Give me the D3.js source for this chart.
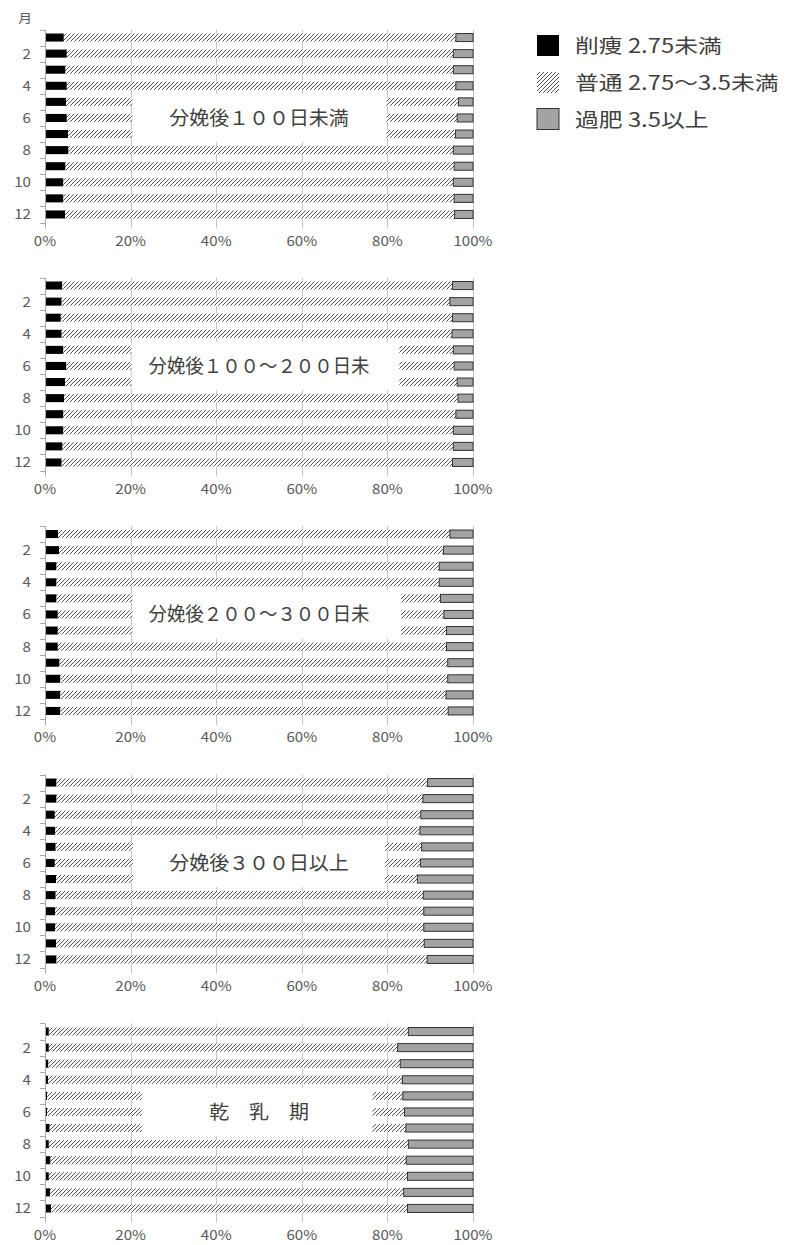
<!DOCTYPE html>
<html><head><meta charset="utf-8">
<script src="https://cdn.jsdelivr.net/npm/d3@7"></script>
<style>
html,body{margin:0;padding:0;background:#fff;}
svg{display:block;font-family:"Noto Sans CJK JP","Noto Sans",sans-serif;}
</style></head>
<body><svg id="c" width="787" height="1245"></svg>
<script>
const months = [1,2,3,4,5,6,7,8,9,10,11,12];
const monthLabels = ["","2","","4","","6","","8","","10","","12"];
const xTicks = [0,20,40,60,80,100];
const panelTitles = ["分娩後１００日未満","分娩後１００～２００日未","分娩後２００～３００日未","分娩後３００日以上","乾　乳　期"];
const seriesNames = ["削痩 2.75未満","普通 2.75～3.5未満","過肥 3.5以上"];

const thin1 = [4.4,5.1,4.8,5.1,4.9,5.1,5.4,5.5,4.8,4.3,4.3,4.7];
const normal1 = [91.6,90.3,90.6,90.9,91.7,91.2,90.5,89.9,90.8,91.1,91.3,91.0];
const fat1 = [4.0,4.6,4.6,4.0,3.4,3.7,4.1,4.6,4.4,4.6,4.4,4.3];

const thin2 = [4.0,3.9,3.7,3.9,4.3,5.0,4.7,4.5,4.3,4.3,4.1,3.9];
const normal2 = [91.2,90.7,91.5,91.2,91.1,90.6,91.6,92.0,91.7,91.1,91.3,91.3];
const fat2 = [4.8,5.4,4.8,4.9,4.6,4.4,3.7,3.5,4.0,4.6,4.6,4.8];

const thin3 = [3.1,3.3,2.7,2.7,2.7,3.0,3.0,3.0,3.4,3.6,3.6,3.6];
const normal3 = [91.5,89.8,89.4,89.4,89.7,90.2,90.8,90.8,90.7,90.5,90.1,90.6];
const fat3 = [5.4,6.9,7.9,7.9,7.6,6.8,6.2,6.2,5.9,5.9,6.3,5.8];

const thin4 = [2.7,2.7,2.3,2.4,2.5,2.3,2.6,2.5,2.4,2.4,2.6,2.7];
const normal4 = [86.7,85.6,85.5,85.2,85.5,85.4,84.4,85.9,86.1,86.1,86.0,86.6];
const fat4 = [10.6,11.7,12.2,12.4,12.0,12.3,13.0,11.6,11.5,11.5,11.4,10.7];

const thin5 = [0.9,0.9,0.8,0.7,0.5,0.5,1.1,0.9,1.3,0.9,1.2,1.4];
const normal5 = [84.0,81.5,82.2,82.8,83.1,83.5,83.2,84.0,83.1,83.8,82.6,83.3];
const fat5 = [15.1,17.6,17.0,16.5,16.4,16.0,15.7,15.1,15.6,15.3,16.2,15.3];

// label box extent (in % of x axis) over months 5-7
const labelBoxFrom = [20.2,20.0,20.2,20.3,22.4];
const labelBoxTo = [79.8,82.8,83.2,79.4,76.5];

const panels = [
  [thin1,normal1,fat1],[thin2,normal2,fat2],[thin3,normal3,fat3],[thin4,normal4,fat4],[thin5,normal5,fat5]
];

const svg = d3.select("#c");
const defs = svg.append("defs");
const pat = defs.append("pattern").attr("id","hatch").attr("patternUnits","userSpaceOnUse")
  .attr("width",4).attr("height",4);
pat.append("rect").attr("width",4).attr("height",4).attr("fill","#fff");
pat.append("path").attr("d","M0,4 L4,0 M-1,1 L1,-1 M3,5 L5,3")
  .attr("stroke","#333").attr("stroke-width",0.85);

const fills = ["#000","url(#hatch)","#a3a3a3"];
const strokes = ["none","none","#333"];
const gridCol = "#c4c4c4";
const textCol = "#595959";

const x = d3.scaleLinear().domain([0,100]).range([45,473]);
const panelTop = [29.5,277.5,526,774.5,1023.5];
const plotH = 193;
const titleScale = [1.05,0.97,0.97,1.05,1.05];

panels.forEach((series,pi)=>{
  const top = panelTop[pi];
  const y = d3.scaleBand().domain(months).range([top, top+plotH]).paddingInner(0.5).paddingOuter(0.25);
  const g = svg.append("g");
  const step = y.step();
  const bandTop = m => y(m) - step*0.25;
  g.selectAll("line.grid").data(xTicks.filter(d=>d>0)).join("line")
    .attr("x1",d=>Math.round(x(d))+0.5).attr("x2",d=>Math.round(x(d))+0.5)
    .attr("y1",top).attr("y2",top+plotH+6).attr("stroke",gridCol).attr("stroke-width",1);
  const stacked = months.map((m,i)=>{
    let acc=0; return series.map((s,k)=>{const r={m,k,x0:acc,x1:acc+s[i]}; acc+=s[i]; return r;});
  }).flat();
  g.selectAll("rect.bar").data(stacked).join("rect")
    .attr("x",d=>x(d.x0)).attr("width",d=>x(d.x1)-x(d.x0))
    .attr("y",d=>y(d.m)).attr("height",y.bandwidth())
    .attr("fill",d=>fills[d.k]).attr("stroke",d=>strokes[d.k]).attr("stroke-width",1);
  const bx0 = x(labelBoxFrom[pi]), bx1 = x(labelBoxTo[pi]);
  const by0 = bandTop(5), by1 = bandTop(7)+step;
  g.append("rect").attr("x",bx0+1).attr("y",by0).attr("width",bx1-bx0-1).attr("height",by1-by0).attr("fill","#fff");
  g.append("text").attr("transform",`translate(${x(50)},${(by0+by1)/2+7}) scale(${titleScale[pi]},1)`)
    .attr("text-anchor","middle").attr("font-size",19).attr("fill","#404040").text(panelTitles[pi]);
  g.append("line").attr("x1",45.5).attr("x2",45.5).attr("y1",top).attr("y2",top+plotH+6)
    .attr("stroke","#a8a8a8");
  const bounds = months.map(m=>bandTop(m)).concat([bandTop(12)+step]);
  g.selectAll("line.tk").data(bounds).join("line")
    .attr("x1",40).attr("x2",45).attr("y1",d=>Math.round(d)+0.5).attr("y2",d=>Math.round(d)+0.5)
    .attr("stroke","#a8a8a8");
  g.selectAll("text.ml").data(months).join("text")
    .attr("transform",d=>`translate(31,${y(d)+y.bandwidth()/2+5}) scale(1.12,1)`)
    .attr("text-anchor","end").attr("font-size",13.5).attr("fill",textCol)
    .text((d,i)=>monthLabels[i]);
  g.selectAll("text.xl").data(xTicks).join("text")
    .attr("transform",d=>`translate(${x(d)},${top+plotH+23}) scale(1.12,1)`)
    .attr("text-anchor","middle").attr("font-size",13.5).attr("fill",textCol)
    .text(d=>d+"%");
});

svg.append("text").attr("transform","translate(25,23) scale(1.1,1)").attr("text-anchor","middle")
  .attr("font-size",12.5).attr("fill",textCol).text("月");

const lg = svg.append("g");
const legY = [35,72,108.5];
seriesNames.forEach((n,i)=>{
  lg.append("rect").attr("x",537).attr("y",legY[i]).attr("width",22).attr("height",21)
    .attr("fill",fills[i]).attr("stroke",i===2?"#333":"none");
  lg.append("text").attr("transform",`translate(575,${legY[i]+18}) scale(1.22,1)`)
    .attr("font-size",19.5).attr("fill","#404040").text(n);
});
</script></body></html>
